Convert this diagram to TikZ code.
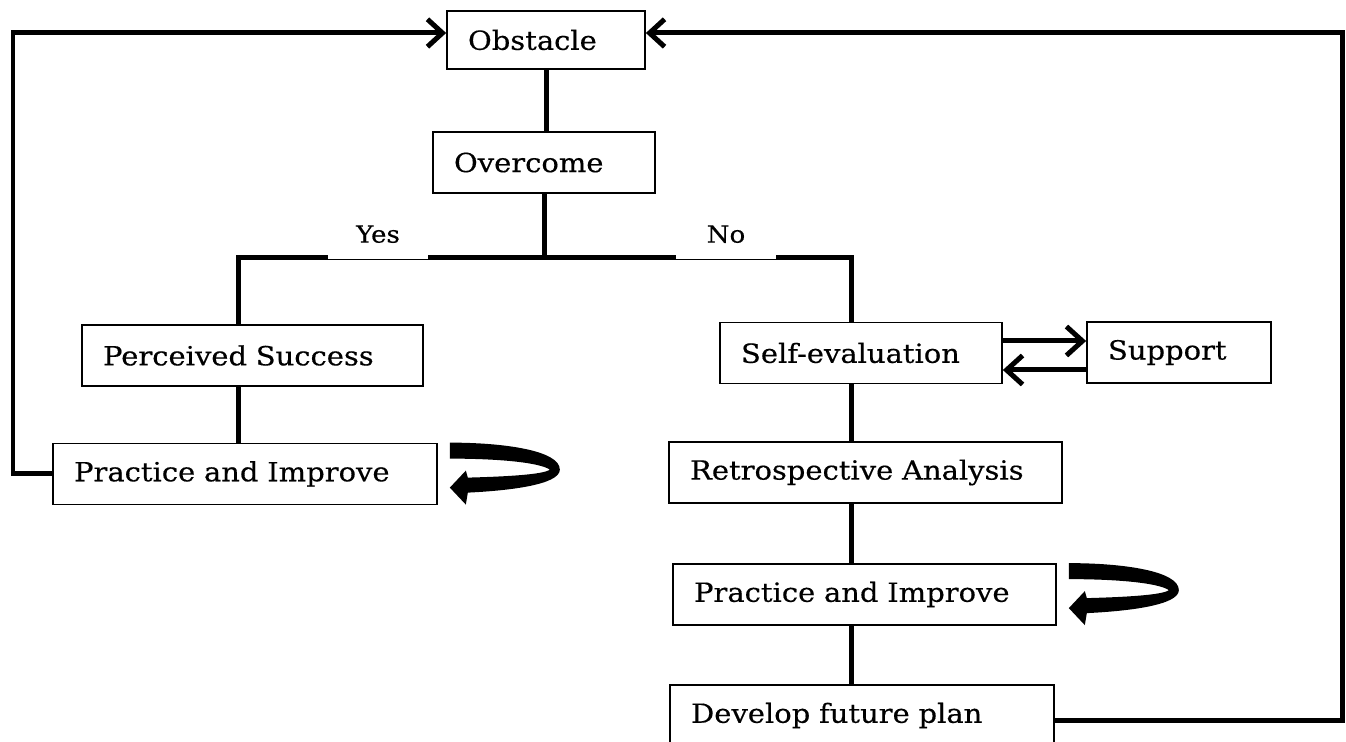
\documentclass[tikz,border=0pt]{standalone}
\usepackage{fontspec}
\setmainfont{DejaVu Serif}[FakeStretch=1.1, FakeBold=0.4]
\usetikzlibrary{arrows.meta}

\begin{document}
\begin{tikzpicture}[x=0.02cm, y=-0.02cm,
    stage/.style ={draw, line width=1pt, align=left, inner xsep=0.42cm,
                   minimum height=1.22cm, font=\fontsize{15}{18}\selectfont},
    link/.style ={line width=0.1cm},
    back/.style ={link, -{Straight Barb[length=0.3cm,width=0.55cm]}},
    aside/.style ={line width=0.1cm, -{Straight Barb[length=0.32cm,width=0.58cm]}},
    branch/.style ={fill=white, anchor=south, minimum width=2cm, inner xsep=0pt,
                    inner ysep=0.32cm, text height=0.36cm, text depth=0pt,
                    font=\fontsize{13.5}{16}\selectfont},
    uturn/.pic ={\fill (0,0) .. controls (55,0) and (110,8) .. (110,27)
                   .. controls (110,42) and (60,48) .. (18,50)
                   -- (16,62) -- (0,45) -- (16,28) -- (18,35)
                   .. controls (55,34) and (94,32) .. (100,27)
                   .. controls (90,20) and (50,16) .. (0,16) -- cycle;}]
   \useasboundingbox (0,0) rectangle (1346,742);

   \node[stage, text width=3.12cm, minimum height=1.16cm] (obst) at (546,40) {Obstacle};
   \node[stage, text width=3.60cm] (over)  at (544,162.5) {Overcome};
   \node[stage, text width=5.98cm] (succ)  at (252.5,355.5) {Perceived Success};
   \node[stage, text width=6.84cm] (pracL) at (245,474) {Practice and Improve};
   \node[stage, text width=4.80cm] (self)  at (861,353) {Self-evaluation};
   \node[stage, text width=2.84cm] (supp)  at (1179,352.5) {Support};
   \node[stage, text width=7.02cm] (retro) at (865.5,472.5) {Retrospective Analysis};
   \node[stage, text width=6.82cm] (pracR) at (864.5,594.5) {Practice and Improve};
   \node[stage, text width=6.84cm] (dev)   at (862,715.5) {Develop future plan};

   \coordinate (bl) at (238,258);
   \coordinate (br) at (851,258);
   \coordinate (lt) at (13,33);
   \coordinate (lb) at (13,474);
   \coordinate (rt) at (1342,33);
   \coordinate (rb) at (1342,721);

   \draw[link] (obst.south) to (obst.south |- over.north);
   \draw[link] (over.south) to (over.south |- bl);
   \draw[link] (bl |- succ.north) -- (bl) -- (br) -- (br |- self.north);
   \draw[link] (bl |- succ.south) to (bl |- pracL.north);
   \draw[link] (br |- self.south) to (br |- retro.north);
   \draw[link] (br |- retro.south) to (br |- pracR.north);
   \draw[link] (br |- pracR.south) to (br |- dev.north);

   \node[branch] (yes) at (378,259) {Yes};
   \node[branch] (no)  at (726,259) {No};

   \draw[back] (pracL.west) -- (lb) -- (lt) -- (lt -| obst.west);
   \draw[back] (dev.east |- rb) -- (rb) -- (rt) -- (rt -| obst.east);

   \draw[aside] ([yshift=0.24cm]self.east) to ([yshift=0.24cm]self.east -| supp.west);
   \draw[aside] ([yshift=-0.35cm]supp.west) to ([yshift=-0.35cm]supp.west -| self.east);

   \pic at ([xshift=0.24cm]pracL.north east) {uturn};
   \pic at ([xshift=0.24cm]pracR.north east) {uturn};
 \end{tikzpicture}
\end{document}
